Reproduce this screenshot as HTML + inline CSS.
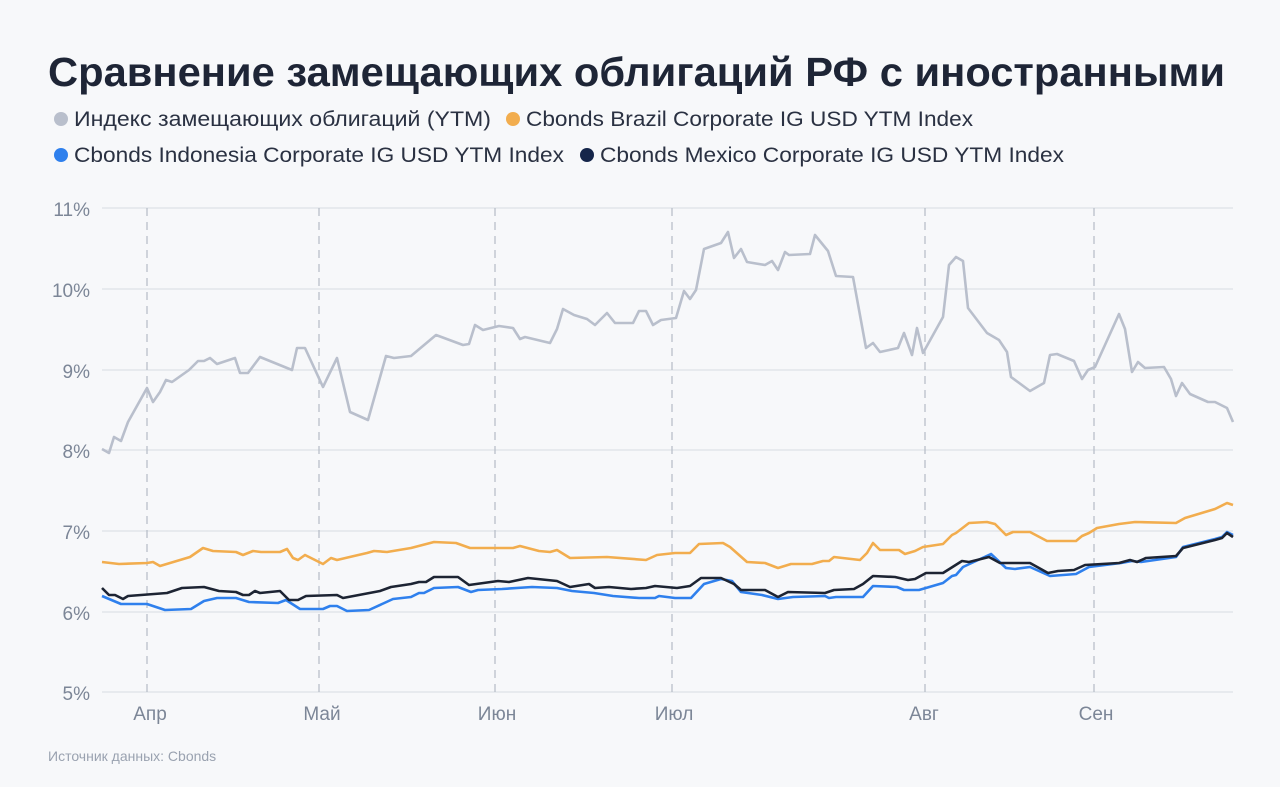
<!DOCTYPE html>
<html><head><meta charset="utf-8"><style>
html,body{margin:0;padding:0;background:#f7f8fa;}
svg{display:block;font-family:"Liberation Sans","DejaVu Sans",sans-serif;}
</style></head><body>
<svg width="1280" height="787" viewBox="0 0 1280 787" xmlns="http://www.w3.org/2000/svg">
<rect width="1280" height="787" fill="#f7f8fa"/>
<text x="48" y="86" font-size="41" font-weight="bold" fill="#1e2536" textLength="1177" lengthAdjust="spacingAndGlyphs">Сравнение замещающих облигаций РФ с иностранными</text>
<g font-size="21" fill="#2a3142">
<circle cx="61" cy="119" r="7" fill="#b9bfcc"/>
<text x="74" y="126" textLength="417" lengthAdjust="spacingAndGlyphs">Индекс замещающих облигаций (YTM)</text>
<circle cx="513" cy="119" r="7" fill="#f2ad4e"/>
<text x="526" y="126" textLength="447" lengthAdjust="spacingAndGlyphs">Cbonds Brazil Corporate IG USD YTM Index</text>
<circle cx="61" cy="155" r="7" fill="#2f80ed"/>
<text x="74" y="162" textLength="490" lengthAdjust="spacingAndGlyphs">Cbonds Indonesia Corporate IG USD YTM Index</text>
<circle cx="587" cy="155" r="7" fill="#15254a"/>
<text x="600" y="162" textLength="464" lengthAdjust="spacingAndGlyphs">Cbonds Mexico Corporate IG USD YTM Index</text>
</g>
<g stroke="#dde1e8" stroke-width="1.2">
<line x1="102" y1="208" x2="1233" y2="208"/><line x1="102" y1="289" x2="1233" y2="289"/>
<line x1="102" y1="370" x2="1233" y2="370"/><line x1="102" y1="450" x2="1233" y2="450"/>
<line x1="102" y1="531" x2="1233" y2="531"/><line x1="102" y1="612" x2="1233" y2="612"/>
<line x1="102" y1="692" x2="1233" y2="692"/>
</g>
<g stroke="#b5bbc6" stroke-width="1.2" stroke-dasharray="8,6">
<line x1="147" y1="208" x2="147" y2="692"/><line x1="319" y1="208" x2="319" y2="692"/>
<line x1="495" y1="208" x2="495" y2="692"/><line x1="672" y1="208" x2="672" y2="692"/>
<line x1="925" y1="208" x2="925" y2="692"/><line x1="1094" y1="208" x2="1094" y2="692"/>
</g>
<g font-size="19" fill="#7c8697" text-anchor="end">
<text x="90" y="216">11%</text><text x="90" y="297">10%</text><text x="90" y="378">9%</text>
<text x="90" y="458">8%</text><text x="90" y="539">7%</text><text x="90" y="620">6%</text><text x="90" y="700">5%</text>
</g>
<g font-size="19" fill="#7c8697" text-anchor="middle">
<text x="150" y="720">Апр</text><text x="322" y="720">Май</text><text x="497" y="720">Июн</text>
<text x="674" y="720">Июл</text><text x="924" y="720">Авг</text><text x="1096" y="720">Сен</text>
</g>
<text x="48" y="761" font-size="14" fill="#9aa2b0">Источник данных: Cbonds</text>
<g fill="none" stroke-width="2.6" stroke-linejoin="round">
<polyline stroke="#b9bfcc" points="102,449 109,453 114,437 121,441 128,422 147,388 153,402 160,392 166,380 172,382 189,370 198,361 204,361 210,358 217,364 235,358 240,373 248,373 260,357 292,370 297,348 305,348 323,387 337,358 350,412 368,420 386,356 394,358 411,356 436,335 463,345 469,344 475,325 483,330 499,326 513,328 520,339 525,337 550,343 557,329 563,309 574,315 587,319 595,325 607,313 615,323 633,323 639,311 646,311 653,325 661,320 676,318 684,291 690,299 696,290 704,249 721,243 728,232 734,258 741,249 747,262 765,265 772,261 778,270 785,252 789,255 810,254 815,235 828,251 836,276 853,277 866,348 873,343 880,352 898,348 904,333 912,355 917,328 923,353 943,317 949,265 956,257 963,261 968,308 987,333 999,340 1007,352 1011,377 1030,391 1044,383 1050,355 1057,354 1074,361 1082,379 1088,370 1095,367 1119,314 1125,329 1132,372 1138,362 1145,368 1164,367 1171,379 1176,396 1182,383 1190,394 1208,402 1215,402 1227,408 1233,422"/>
<polyline stroke="#f2ad4e" points="102,562 119,564 147,563 153,562 160,566 190,557 203,548 213,551 236,552 243,555 253,551 261,552 280,552 287,549 293,558 298,560 305,555 323,564 331,558 337,560 354,556 367,553 374,551 387,552 411,548 434,542 456,543 470,548 513,548 520,546 539,551 550,552 557,550 570,558 607,557 646,560 657,555 675,553 690,553 699,544 723,543 730,547 747,562 765,563 778,568 791,564 812,564 823,561 829,561 834,557 860,560 867,553 873,543 880,550 899,550 905,554 915,551 923,547 943,544 952,535 956,533 969,523 987,522 995,524 1006,535 1013,532 1030,532 1047,541 1076,541 1082,536 1089,533 1097,528 1119,524 1135,522 1176,523 1185,518 1215,509 1227,503 1233,505"/>
<polyline stroke="#2f80ed" points="102,596 121,604 147,604 165,610 191,609 204,601 217,598 236,598 249,602 278,603 286,600 300,609 323,609 330,606 337,606 347,611 369,610 393,599 411,597 419,593 424,593 434,588 458,587 471,592 478,590 502,589 532,587 557,588 572,591 594,593 613,596 639,598 655,598 659,596 675,598 691,598 704,584 721,579 732,581 741,592 762,595 778,599 793,597 825,596 829,598 836,597 863,597 873,586 897,587 904,590 919,590 943,583 952,576 956,575 963,567 991,554 1006,568 1015,569 1030,567 1050,576 1076,574 1089,567 1121,563 1132,561 1141,562 1176,557 1183,547 1215,539 1222,537 1227,532 1233,535"/>
<polyline stroke="#1d2433" points="102,588 109,595 115,595 123,599 128,596 167,593 182,588 204,587 219,591 236,592 243,595 249,595 255,591 260,593 280,591 289,600 298,600 306,596 337,595 343,598 380,591 391,587 411,584 419,582 426,582 434,577 458,577 469,585 498,581 509,582 528,578 557,581 570,587 589,584 595,588 609,587 631,589 646,588 655,586 677,588 690,586 701,578 721,578 734,584 741,590 765,590 778,597 788,592 825,593 834,590 854,589 863,584 873,576 895,577 908,580 915,579 926,573 943,573 962,561 969,562 989,557 1000,563 1030,563 1048,573 1058,571 1074,570 1085,565 1119,563 1130,560 1137,562 1146,558 1176,556 1183,548 1215,540 1222,538 1227,533 1233,537"/>
</g>
</svg>
</body></html>
